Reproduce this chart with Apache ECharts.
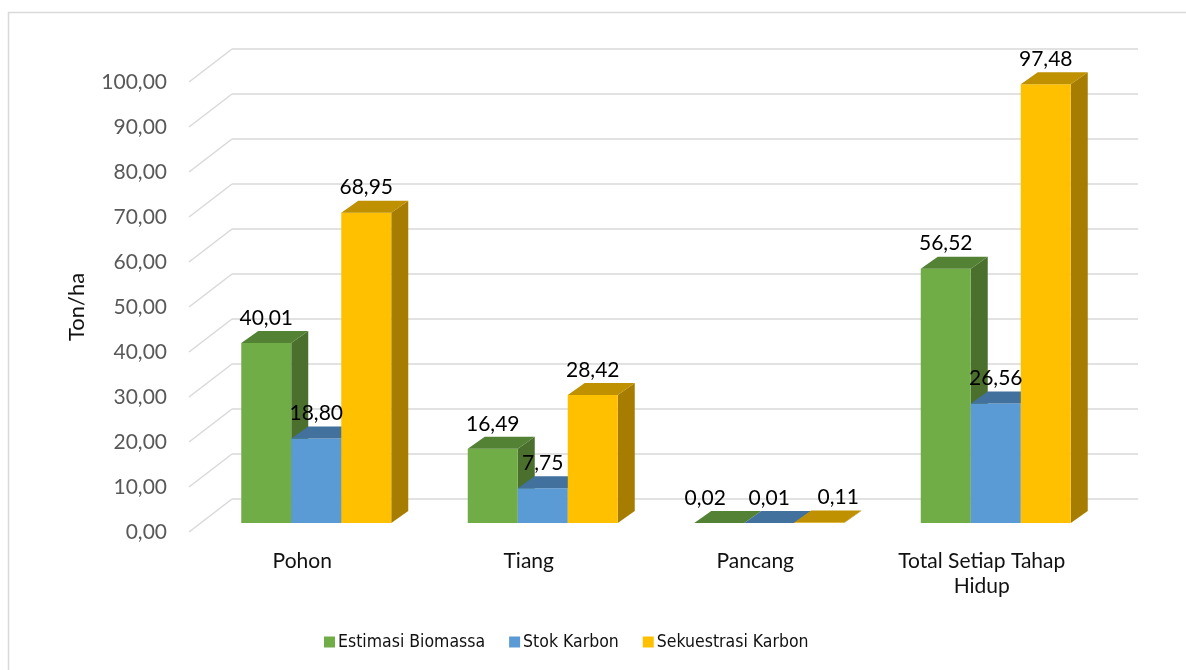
<!DOCTYPE html>
<html>
<head>
<meta charset="utf-8">
<title>Biomassa dan Karbon</title>
<script src="https://cdn.jsdelivr.net/npm/echarts@6/dist/echarts.min.js"></script>
<style>
  html, body { margin: 0; padding: 0; background: #ffffff; }
  #chart { width: 1186px; height: 670px; }
</style>
</head>
<body>
<div id="chart"></div>
<script>
// ---- data ----
const categories = ['Pohon', 'Tiang', 'Pancang', 'Total Setiap Tahap\nHidup'];
const seriesNames = ['Estimasi Biomassa', 'Stok Karbon', 'Sekuestrasi Karbon'];
const biomassa = [40.01, 16.49, 0.02, 56.52];
const stokKarbon = [18.80, 7.75, 0.01, 26.56];
const sekuestrasi = [68.95, 28.42, 0.11, 97.48];
const yTicks = [0, 10, 20, 30, 40, 50, 60, 70, 80, 90, 100];
const yMin = 0, yMax = 100, yStep = 10;

// ---- look ----
const FONT = 'Lato, "Open Sans", sans-serif';
const LEGEND_FONT = '"DejaVu Sans Condensed", "Liberation Sans Narrow", "Liberation Sans", sans-serif';
const palette = [
  { front: '#70AD47', top: '#548235', side: '#4B702D' },
  { front: '#5B9BD5', top: '#41719C', side: '#3A6590' },
  { front: '#FFC000', top: '#BF9000', side: '#A67D00' }
];
const DEPTH_BAR = [17, -12];   // bar depth projection (dx, dy)
const DEPTH_WALL = [43, -33];  // floor depth projection (front -> back wall)
const BAR_RATIO = 50 / 226.5;  // width of one bar relative to a category band
const LABEL_NUDGE_X = { 2: [-14, 0, 19] }; // keep crowded labels apart

const values = [biomassa, stokKarbon, sekuestrasi];
const fmt = v => v.toFixed(2).replace('.', ',');

function barRenderer(si) {
  const c = palette[si];
  return function (params, api) {
    const idx = api.value(0);
    const val = api.value(1);
    const band = api.size([1, 0])[0];
    const bw = band * BAR_RATIO;
    const base = api.coord([idx, 0]);
    const topPt = api.coord([idx, val]);
    const x0 = base[0] - 1.5 * bw + si * bw;
    const x1 = x0 + bw;
    const yb = base[1];
    const yt = topPt[1];
    const dx = DEPTH_BAR[0], dy = DEPTH_BAR[1];
    return {
      type: 'group',
      children: [
        {
          type: 'polygon',
          shape: { points: [[x1, yt], [x1 + dx, yt + dy], [x1 + dx, yb + dy], [x1, yb]] },
          style: { fill: c.side }
        },
        {
          type: 'rect',
          shape: { x: x0, y: yt, width: bw, height: Math.max(yb - yt, 0) },
          style: { fill: c.front }
        },
        {
          type: 'polygon',
          shape: { points: [[x0, yt], [x0 + dx, yt + dy], [x1 + dx, yt + dy], [x1, yt]] },
          style: { fill: c.top }
        }
      ]
    };
  };
}

function labelRenderer(si) {
  return function (params, api) {
    const idx = api.value(0);
    const val = api.value(1);
    const band = api.size([1, 0])[0];
    const bw = band * BAR_RATIO;
    const base = api.coord([idx, 0]);
    const topPt = api.coord([idx, val]);
    const cx = base[0] - 1.5 * bw + si * bw + bw / 2;
    const nudge = LABEL_NUDGE_X[idx] ? LABEL_NUDGE_X[idx][si] : 0;
    return {
      type: 'text',
      style: {
        x: cx + nudge,
        y: topPt[1] + DEPTH_BAR[1] - 13,
        text: fmt(val),
        fill: '#000000',
        font: '21px ' + FONT,
        align: 'center',
        verticalAlign: 'middle'
      }
    };
  };
}

function wallRenderer(params, api) {
  const y = api.coord([0, api.value(1)])[1];
  const x = params.coordSys.x;
  return {
    type: 'line',
    shape: { x1: x, y1: y, x2: x + DEPTH_WALL[0], y2: y + DEPTH_WALL[1] },
    style: { stroke: '#D9D9D9', lineWidth: 1.5 }
  };
}

const series = [];
// slanted floor-to-wall gridlines
series.push({
  type: 'custom',
  xAxisIndex: 1, yAxisIndex: 1,
  renderItem: wallRenderer,
  data: yTicks.map(t => [0, t]),
  encode: { x: 0, y: 1 },
  silent: true,
  z: 1
});
values.forEach((arr, si) => {
  series.push({
    name: seriesNames[si],
    type: 'custom',
    xAxisIndex: 2, yAxisIndex: 2,
    renderItem: barRenderer(si),
    data: arr.map((v, i) => [i, v]),
    encode: { x: 0, y: 1 },
    itemStyle: { color: palette[si].front },
    z: 3 + si
  });
});
values.forEach((arr, si) => {
  series.push({
    type: 'custom',
    xAxisIndex: 2, yAxisIndex: 2,
    renderItem: labelRenderer(si),
    data: arr.map((v, i) => [i, v]),
    encode: { x: 0, y: 1 },
    silent: true,
    z: 20
  });
});

const hiddenCat = { type: 'category', data: categories, show: false };
const option = {
  backgroundColor: '#ffffff',
  animation: false,
  grid: [
    // back wall
    { left: 232, top: 49, width: 906, height: 450 },
    // front edge of the floor (axis labels)
    { left: 189, top: 82, width: 906, height: 450 },
    // bar front plane
    { left: 203, top: 73, width: 906, height: 450 }
  ],
  xAxis: [
    Object.assign({ gridIndex: 0 }, hiddenCat),
    {
      gridIndex: 1, type: 'category', data: categories,
      axisLine: { show: false }, axisTick: { show: false },
      axisLabel: { color: '#111111', fontFamily: FONT, fontSize: 21, margin: 17, lineHeight: 25 }
    },
    Object.assign({ gridIndex: 2 }, hiddenCat)
  ],
  yAxis: [
    {
      gridIndex: 0, type: 'value', min: yMin, max: yMax, interval: yStep,
      axisLine: { show: false }, axisTick: { show: false }, axisLabel: { show: false },
      splitLine: { show: true, lineStyle: { color: '#D9D9D9', width: 1.5 } }
    },
    {
      gridIndex: 1, type: 'value', min: yMin, max: yMax, interval: yStep,
      axisLine: { show: false }, axisTick: { show: false },
      splitLine: { show: false },
      axisLabel: { color: '#595959', fontFamily: FONT, fontSize: 21, margin: 22, formatter: v => fmt(v) },
      name: 'Ton/ha', nameLocation: 'middle', nameGap: 101, nameRotate: 90,
      nameTextStyle: { color: '#111111', fontFamily: FONT, fontSize: 22 }
    },
    {
      gridIndex: 2, type: 'value', min: yMin, max: yMax, interval: yStep, show: false
    }
  ],
  legend: {
    data: seriesNames,
    left: 319, top: 628,
    icon: 'rect', itemWidth: 11, itemHeight: 11, itemGap: 24,
    textStyle: { color: '#111111', fontFamily: LEGEND_FONT, fontSize: 17.5, padding: [0, 0, 0, -2] },
    selectedMode: false
  },
  graphic: [
    {
      type: 'rect', silent: true, z: -1,
      shape: { x: 8.5, y: 12.5, width: 1300, height: 800 },
      style: { fill: 'none', stroke: '#D9D9D9', lineWidth: 1.5 }
    }
  ],
  series: series
};

const chart = echarts.init(document.getElementById('chart'), null, { renderer: 'canvas' });
chart.setOption(option);
</script>
</body>
</html>
